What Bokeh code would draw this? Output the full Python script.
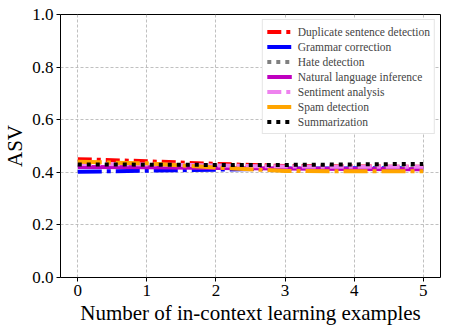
from bokeh.plotting import figure
from bokeh.embed import file_html
from bokeh.resources import INLINE
from bokeh.models import FixedTicker, Legend, LegendItem, CustomJSTickFormatter

x_vals = [0, 1, 2, 3, 4, 5]
duplicate = [0.450, 0.442, 0.432, 0.424, 0.422, 0.421]
grammar = [0.402, 0.406, 0.410, 0.414, 0.415, 0.415]
hate = [0.428, 0.425, 0.422, 0.420, 0.420, 0.420]
nli = [0.420, 0.419, 0.416, 0.414, 0.413, 0.412]
sentiment = [0.432, 0.430, 0.426, 0.422, 0.421, 0.421]
spam = [0.440, 0.434, 0.418, 0.405, 0.404, 0.404]
summarization = [0.430, 0.429, 0.428, 0.428, 0.430, 0.432]

series_names = ["Duplicate sentence detection", "Grammar correction", "Hate detection",
                "Natural language inference", "Sentiment analysis", "Spam detection",
                "Summarization"]
series_values = [duplicate, grammar, hate, nli, sentiment, spam, summarization]
colors = ["#ff0000", "#0000ff", "#808080", "#bf00bf", "#ee82ee", "#ffa500", "#000000"]
dashes = ["14 5 4 5", "24 5 4 5", "4 5", "solid", "14 5 4 5", "24 5 4 5", "4 5"]

y_ticks = [0.0, 0.2, 0.4, 0.6, 0.8, 1.0]

FONT = "Liberation Serif"

p = figure(frame_width=380, frame_height=263, x_range=(-0.25, 5.25), y_range=(0, 1.0),
           output_backend="svg", toolbar_location=None,
           min_border_left=8, min_border_right=8, min_border_top=14, min_border_bottom=4,
           background_fill_color="white", border_fill_color="white")

p.outline_line_color = "black"
p.outline_line_width = 1
p.outline_line_alpha = 1

items = []
for name, vals, c, d in zip(series_names, series_values, colors, dashes):
    r = p.line(x_vals, vals, line_color=c, line_width=4, line_dash=d)
    items.append(LegendItem(label=name, renderers=[r]))

legend = Legend(items=items, location="top_right")
legend.label_text_font = FONT
legend.label_text_font_size = "11.5px"
legend.label_height = 15
legend.glyph_height = 15
legend.glyph_width = 25
legend.spacing = 0
legend.padding = 4
legend.margin = 5
legend.label_standoff = 6
legend.border_line_color = "#cccccc"
legend.border_line_width = 1
legend.background_fill_alpha = 1
p.add_layout(legend)

p.xaxis.ticker = FixedTicker(ticks=x_vals)
p.yaxis.ticker = FixedTicker(ticks=y_ticks)
p.yaxis.formatter = CustomJSTickFormatter(code="return tick.toFixed(1);")

for ax in (p.xaxis, p.yaxis):
    ax.axis_line_color = None
    ax.major_tick_line_color = "black"
    ax.major_tick_out = 4
    ax.major_tick_in = 0
    ax.minor_tick_line_color = None
    ax.major_label_text_font = FONT
    ax.major_label_text_font_size = "17px"
    ax.major_label_text_color = "black"
    ax.axis_label_text_font = FONT
    ax.axis_label_text_font_size = "21px"
    ax.axis_label_text_font_style = "normal"
    ax.axis_label_text_color = "black"
    ax.major_label_standoff = 3

p.xaxis.axis_label = "Number of in-context learning examples"
p.yaxis.axis_label = "ASV"
p.xaxis.axis_label_standoff = 2
p.yaxis.axis_label_standoff = 2

p.grid.grid_line_color = "#b0b0b0"
p.grid.grid_line_dash = "3 2"
p.grid.grid_line_width = 0.8

open("out.html", "w").write(file_html(p, INLINE))
